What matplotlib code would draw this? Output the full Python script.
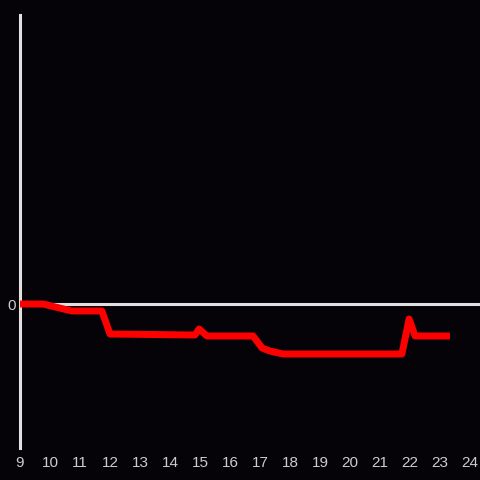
import matplotlib
matplotlib.use("Agg")
import matplotlib.pyplot as plt

hours = [9.0, 9.77, 10.73, 11.73, 12.0, 14.83, 14.97, 15.23, 16.77, 17.07, 17.33, 17.77, 21.73, 21.97, 22.17, 23.33]
values = [0.0, 0.0, -0.7, -0.7, -3.0, -3.1, -2.5, -3.2, -3.2, -4.4, -4.7, -5.0, -5.0, -1.5, -3.2, -3.2]
xticks = list(range(9, 25))
ytick_vals = [0]

bg = "#050308"
fig = plt.figure(figsize=(4.8, 4.8), dpi=100, facecolor=bg)
ax = fig.add_axes([20/480, (480-448)/480, 460/480, (448-15)/480], facecolor=bg)

ax.set_xlim(9, 9 + 460/30)
ax.set_ylim(-14.4, 28.9)

ax.axhline(0, color="#e0e0e0", lw=2.2, zorder=1)
ax.plot(hours, values, color="#ff0000", lw=5, zorder=3, solid_joinstyle="round", solid_capstyle="butt")

for s in ["top", "right", "bottom"]:
    ax.spines[s].set_visible(False)
ax.spines["left"].set_color("#e0e0e0")
ax.spines["left"].set_linewidth(2.2)

ax.set_xticks(xticks)
ax.set_xticklabels([str(t) for t in xticks])
ax.set_yticks(ytick_vals)
ax.set_yticklabels([str(v) for v in ytick_vals])
ax.tick_params(axis="both", length=0, colors="#cccccc", labelsize=11)
ax.tick_params(axis="x", pad=6)
ax.tick_params(axis="y", pad=3)
for lab in ax.get_xticklabels() + ax.get_yticklabels():
    lab.set_family("Liberation Sans")

fig.savefig("out.png", dpi=100, facecolor=bg)
